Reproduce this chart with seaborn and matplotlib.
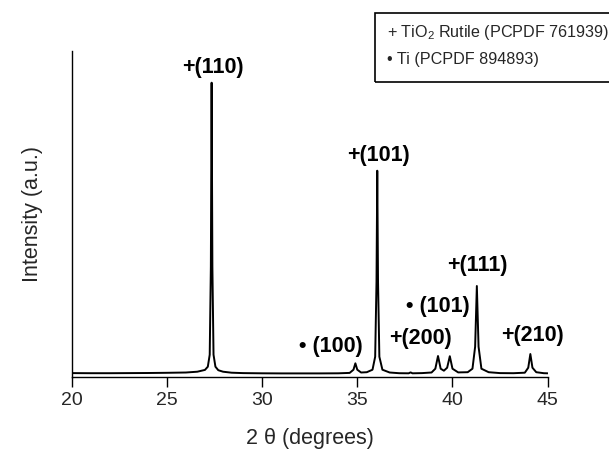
import matplotlib
matplotlib.use("Agg")
import matplotlib.pyplot as plt
from matplotlib.patches import Rectangle
import seaborn as sns
import pandas as pd

# XRD trace: 2-theta (degrees) and intensity (arbitrary units)
two_theta = [20.0, 21.0, 22.0, 23.0, 24.0, 25.0, 26.0, 26.6, 27.0, 27.15, 27.25,
             27.31, 27.35, 27.39, 27.45, 27.55, 27.7, 27.95, 28.4, 29.0, 30.0,
             31.0, 32.0, 33.0, 34.0, 34.6, 34.8, 34.9, 35.0, 35.2, 35.5, 35.8,
             35.94, 36.01, 36.05, 36.09, 36.16, 36.32, 36.7, 37.2, 37.7, 37.8,
             37.9, 38.4, 38.9, 39.1, 39.24, 39.38, 39.55, 39.72, 39.86, 40.0,
             40.3, 40.8, 41.05, 41.19, 41.28, 41.37, 41.52, 41.9, 42.5, 43.2,
             43.8, 43.98, 44.09, 44.2, 44.4, 44.8, 45.0]
intensity = [3.6, 3.5, 3.5, 3.6, 3.7, 3.9, 4.2, 5.0, 6.8, 10.0, 22.0,
             110.0, 294.0, 110.0, 22.0, 10.0, 6.5, 5.0, 4.0, 3.6, 3.4,
             3.3, 3.3, 3.3, 3.4, 3.8, 7.0, 13.4, 7.0, 4.2, 4.5, 7.0,
             20.0, 95.0, 206.0, 95.0, 20.0, 7.0, 4.2, 3.5, 3.4, 4.3,
             3.4, 3.6, 4.2, 8.0, 20.7, 8.0, 6.0, 9.0, 20.5, 8.0,
             4.3, 4.5, 8.0, 30.0, 90.7, 30.0, 8.0, 4.5, 3.6, 3.5,
             4.0, 9.0, 22.7, 9.0, 4.5, 3.5, 3.4]

# Reflection labels: text, 2-theta, label height
peak_labels = ["+(110)", "+(101)", "+(111)", "\u2022 (101)", "\u2022 (100)", "+(200)", "+(210)"]
label_x = [27.44, 36.12, 41.32, 39.21, 33.6, 38.33, 44.21]
label_y = [309.7, 221.7, 111.7, 70.0, 30.7, 38.7, 41.7]

x_ticks = [20, 25, 30, 35, 40, 45]

sns.set_style("ticks")
plt.rcParams["font.family"] = ["Liberation Sans", "DejaVu Sans"]
plt.rcParams["mathtext.fontset"] = "custom"
plt.rcParams["mathtext.rm"] = "Liberation Sans"
plt.rcParams["mathtext.it"] = "Liberation Sans:italic"
plt.rcParams["mathtext.bf"] = "Liberation Sans:bold"

df = pd.DataFrame({"two_theta": two_theta, "intensity": intensity})

fig = plt.figure(figsize=(6.09, 4.58), dpi=100)
ax = fig.add_axes([0.1177, 0.1775, 0.7816, 0.7118])

sns.lineplot(data=df, x="two_theta", y="intensity", color="black",
             linewidth=1.4, ax=ax, sort=False)

ax.set_xlim(20, 45)
ax.set_ylim(0, 326)
ax.set_xticks(x_ticks)
ax.set_xticklabels([str(t) for t in x_ticks], fontsize=14)
ax.set_yticks([])
ax.tick_params(axis="x", direction="out", length=7, width=1.0, color="black", pad=4)
for side in ("top", "right"):
    ax.spines[side].set_visible(False)
for side in ("left", "bottom"):
    ax.spines[side].set_linewidth(1.0)
    ax.spines[side].set_color("black")

ax.set_xlabel("2 \u03b8 (degrees)", fontsize=15.5, labelpad=14)
ax.set_ylabel("Intensity (a.u.)", fontsize=15.5, labelpad=21)

for txt, lx, ly in zip(peak_labels, label_x, label_y):
    ax.text(lx, ly, txt, ha="center", va="center", fontsize=15.5,
            fontweight="bold", color="black")

# Phase key in the top-right corner
fig.patches.append(Rectangle((0.6158, 0.821), 0.5, 0.1506, transform=fig.transFigure,
                             fill=False, edgecolor="black", linewidth=1.2))
fig.text(0.635, 0.930, "+ TiO$_2$ Rutile (PCPDF 761939)", fontsize=11.6,
         ha="left", va="center")
fig.text(0.635, 0.869, "\u2022 Ti (PCPDF 894893)", fontsize=11.6,
         ha="left", va="center")

fig.savefig("out.png", dpi=100)
